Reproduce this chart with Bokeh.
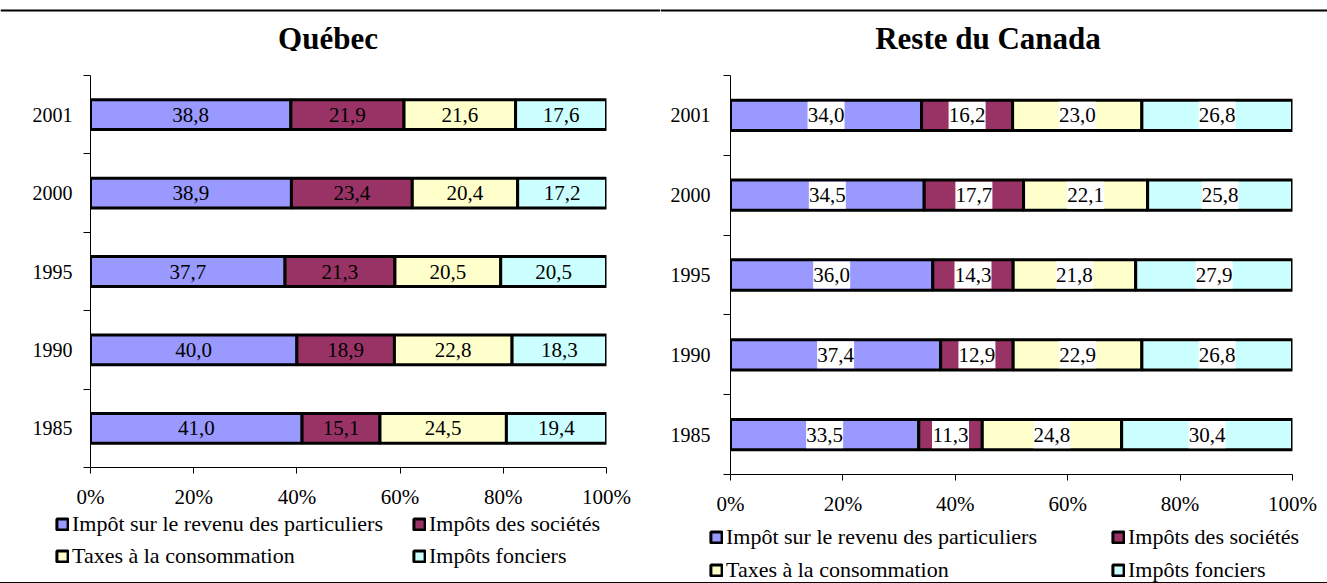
from bokeh.plotting import figure
from bokeh.models import (ColumnDataSource, Range1d, FixedTicker, PrintfTickFormatter,
                          LabelSet, Label, Legend, Span)
from bokeh.layouts import column, row
from bokeh.core.properties import value
from bokeh.embed import file_html
from bokeh.resources import INLINE

# ---------------- data ----------------
years = ["1985", "1990", "1995", "2000", "2001"]  # bottom to top
series_names = ["Impôt sur le revenu des particuliers", "Impôts des sociétés",
                "Taxes à la consommation", "Impôts fonciers"]
series_keys = ["pers", "corp", "cons", "fonc"]
colors = ["#9999FF", "#993366", "#FFFFCC", "#CCFFFF"]
x_ticks = [0, 20, 40, 60, 80, 100]

qc_pers = [41.0, 40.0, 37.7, 38.9, 38.8]
qc_corp = [15.1, 18.9, 21.3, 23.4, 21.9]
qc_cons = [24.5, 22.8, 20.5, 20.4, 21.6]
qc_fonc = [19.4, 18.3, 20.5, 17.2, 17.6]

rc_pers = [33.5, 37.4, 36.0, 34.5, 34.0]
rc_corp = [11.3, 12.9, 14.3, 17.7, 16.2]
rc_cons = [24.8, 22.9, 21.8, 22.1, 23.0]
rc_fonc = [30.4, 26.8, 27.9, 25.8, 26.8]

FONT = "Liberation Serif"
LEGEND_ORDER = [0, 2, 1, 3]  # row-wise: (pers, corp) / (cons, fonc)
TITLE_H = 51


def make_source(cols):
    n = len(years)
    ypos = [i + 0.5 for i in range(n)]
    totals = [sum(c[i] for c in cols) for i in range(n)]
    data = {"y": ypos}
    for k, c in zip(series_keys, cols):
        data[k] = [c[i] / totals[i] * 100 for i in range(n)]
    return data


def bare_figure(width, height, xr, yr):
    q = figure(width=width, height=height, output_backend="svg", toolbar_location=None,
               x_axis_location=None, y_axis_location=None,
               min_border_left=0, min_border_right=0, min_border_top=0, min_border_bottom=0,
               x_range=Range1d(*xr), y_range=Range1d(*yr))
    q.outline_line_color = None
    q.xgrid.visible = False
    q.ygrid.visible = False
    return q


def make_title(text, width, cx):
    q = bare_figure(width, TITLE_H, (0, width), (0, TITLE_H))
    # horizontal rule across the top of the page
    q.add_layout(Span(location=TITLE_H - 10, dimension="width", line_color="black",
                      line_width=2))
    q.add_layout(Label(x=cx, y=13, text=text, text_align="center", text_baseline="alphabetic",
                       text_font=FONT, text_font_size="31px", text_font_style="bold",
                       text_color="black"))
    return q


def make_chart(cols, width, border_left, border_right, frame_h, chart_h, y_standoff, white_boxes):
    n = len(years)
    data = make_source(cols)
    ypos = data["y"]
    src = ColumnDataSource(data)
    top = 75 - TITLE_H

    p = figure(width=width, height=chart_h, output_backend="svg", toolbar_location=None,
               x_range=Range1d(0, 100), y_range=Range1d(0, n),
               min_border_left=border_left, min_border_right=border_right,
               min_border_top=top, min_border_bottom=chart_h - top - frame_h)
    p.outline_line_color = None
    p.xgrid.visible = False
    p.ygrid.visible = False

    p.hbar_stack(series_keys, y="y", height=0.38, source=src,
                 fill_color=colors, line_color="black", line_width=3)

    # value labels
    lab_x, lab_y, lab_t = [], [], []
    for i in range(n):
        cum = 0.0
        for k, c in zip(series_keys, cols):
            v = data[k][i]
            lab_x.append(cum + v / 2)
            lab_y.append(ypos[i])
            lab_t.append(f"{c[i]:.1f}".replace(".", ","))
            cum += v
    lsrc = ColumnDataSource(dict(x=lab_x, y=lab_y, t=lab_t))
    if white_boxes:
        p.rect(x="x", y="y", width=37, width_units="screen", height=0.34,
               source=lsrc, fill_color="white", line_color=None)
    p.add_layout(LabelSet(x="x", y="y", text="t", source=lsrc, text_align="center",
                          text_baseline="middle", text_font=value(FONT),
                          text_font_size=value("21px"), text_color="black"))

    # axes
    xa = p.xaxis[0]
    xa.ticker = FixedTicker(ticks=x_ticks, minor_ticks=[])
    xa.formatter = PrintfTickFormatter(format="%d%%")
    xa.major_tick_out = 6
    xa.major_tick_in = 0
    xa.axis_line_color = "black"
    xa.major_tick_line_color = "black"
    xa.major_label_text_font = FONT
    xa.major_label_text_font_size = "21px"
    xa.major_label_text_color = "black"
    xa.major_label_standoff = 11

    ya = p.yaxis[0]
    ya.ticker = FixedTicker(ticks=ypos, minor_ticks=list(range(n + 1)))
    ya.major_label_overrides = {ypos[i]: years[i] for i in range(n)}
    ya.major_tick_line_color = None
    ya.minor_tick_out = 7
    ya.minor_tick_in = 0
    ya.minor_tick_line_color = "black"
    ya.axis_line_color = "black"
    ya.major_label_text_font = FONT
    ya.major_label_text_font_size = "20px"
    ya.major_label_text_color = "black"
    ya.major_label_standoff = y_standoff
    return p


def make_legend(cols, width, height, loc, label_width, spacing):
    q = bare_figure(width, height, (0, 100), (100, 101))
    # same bars, kept off-range so only their legend swatches show
    rs = q.hbar_stack(series_keys, y="y", height=0.38, source=ColumnDataSource(make_source(cols)),
                      fill_color=colors, line_color="black", line_width=3)
    legend = Legend(items=[(series_names[i], [rs[i]]) for i in LEGEND_ORDER],
                    location=loc, ncols=2, orientation="vertical",
                    border_line_color=None, background_fill_alpha=0,
                    padding=0, margin=0, spacing=spacing,
                    glyph_width=14, glyph_height=14, label_standoff=3,
                    label_width=label_width, label_height=16,
                    label_text_font=FONT, label_text_font_size="22px",
                    label_text_color="black")
    q.add_layout(legend, "center")
    return q


qc_cols = [qc_pers, qc_corp, qc_cons, qc_fonc]
rc_cols = [rc_pers, rc_corp, rc_cons, rc_fonc]

t1 = make_title("Québec", 660, 327.5)
p1 = make_chart(qc_cols, 660, 90, 54, 393, 460, 11, False)
l1 = make_legend(qc_cols, 660, 72, (55, 14), 334, 6)

t2 = make_title("Reste du Canada", 667, 327.5)
p2 = make_chart(rc_cols, 667, 70, 35, 400, 467, 13, True)
l2 = make_legend(rc_cols, 667, 65, (49, 0), 378, 7)

layout = row(column(row(t1), p1, row(l1)), column(row(t2), p2, row(l2)))

open("out.html", "w").write(file_html(layout, INLINE))
